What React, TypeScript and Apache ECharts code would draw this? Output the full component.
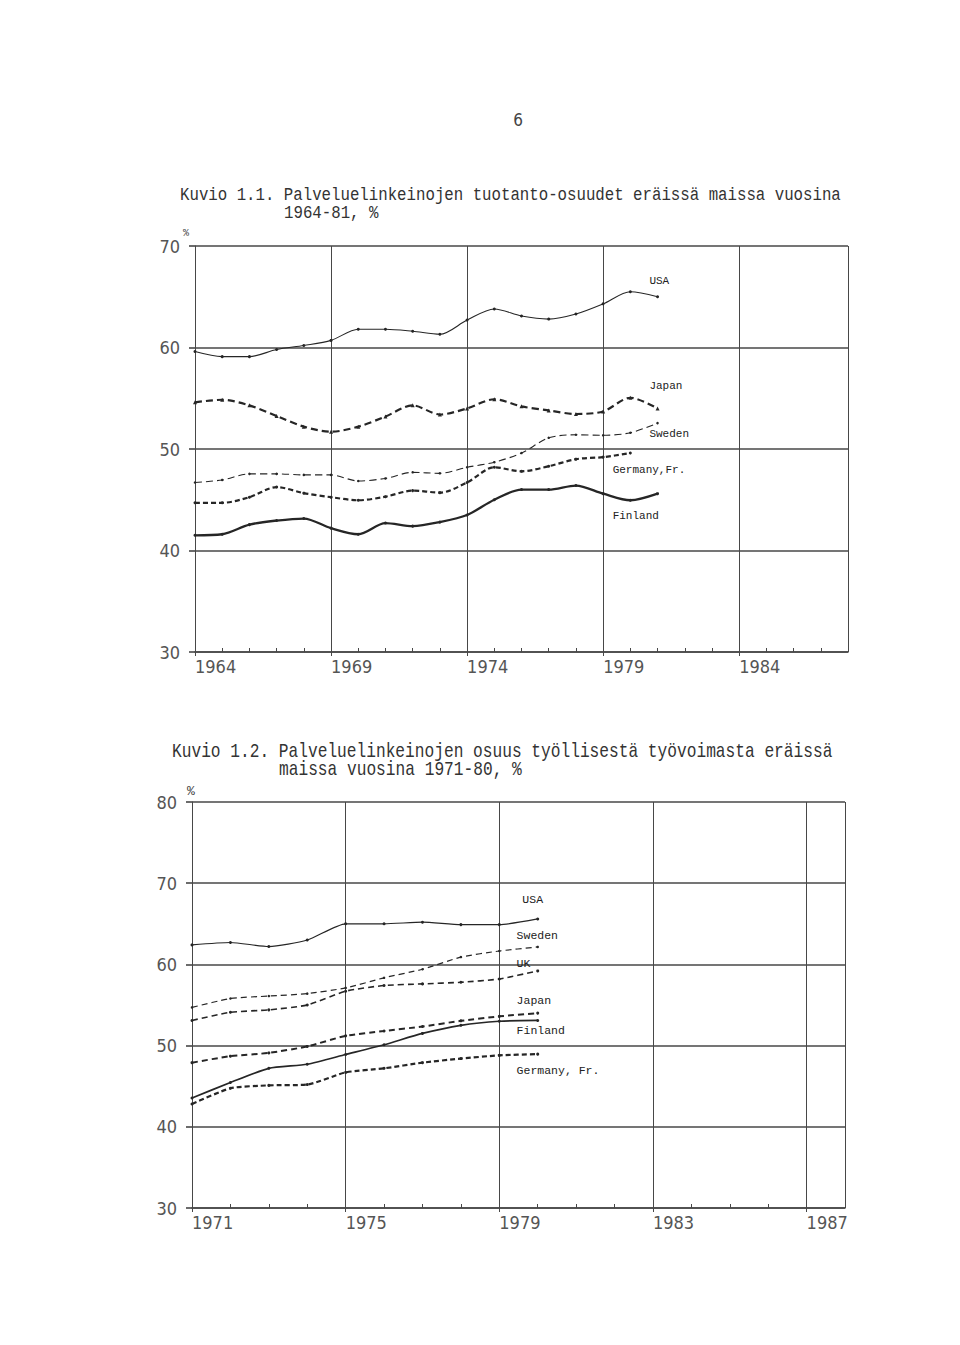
import React, { useEffect, useRef } from "react";
import * as echarts from "echarts";

// ---------- Chart 1.1 data (services share of output, %) ----------
const years1 = [1964, 1965, 1966, 1967, 1968, 1969, 1970, 1971, 1972, 1973, 1974, 1975, 1976, 1977, 1978, 1979, 1980, 1981];
const usa1 = [59.6, 59.1, 59.1, 59.8, 60.2, 60.7, 61.8, 61.8, 61.6, 61.3, 62.7, 63.8, 63.1, 62.8, 63.3, 64.3, 65.5, 65.0];
const japan1 = [54.6, 54.85, 54.3, 53.25, 52.2, 51.7, 52.2, 53.2, 54.3, 53.4, 54.0, 54.9, 54.2, 53.8, 53.45, 53.7, 55.05, 54.0];
const sweden1 = [46.7, 46.95, 47.55, 47.55, 47.45, 47.45, 46.85, 47.1, 47.7, 47.6, 48.2, 48.7, 49.6, 51.1, 51.4, 51.35, 51.6, 52.55];
const germany1 = [44.7, 44.7, 45.25, 46.25, 45.65, 45.25, 44.95, 45.3, 45.9, 45.7, 46.7, 48.2, 47.8, 48.3, 49.0, 49.2, 49.6];
const finland1 = [41.5, 41.6, 42.55, 42.95, 43.15, 42.2, 41.6, 42.7, 42.4, 42.8, 43.5, 45.0, 46.0, 46.0, 46.4, 45.6, 44.95, 45.6];
const xTicks1 = [1964, 1969, 1974, 1979, 1984];
const yTicks1 = [30, 40, 50, 60, 70];

// ---------- Chart 1.2 data (services share of employment, %) ----------
const years2 = [1971, 1972, 1973, 1974, 1975, 1976, 1977, 1978, 1979, 1980];
const usa2 = [62.4, 62.7, 62.2, 63.0, 65.0, 65.0, 65.2, 64.9, 64.9, 65.6];
const sweden2 = [54.7, 55.8, 56.1, 56.4, 57.1, 58.35, 59.4, 60.9, 61.65, 62.15];
const uk2 = [53.1, 54.1, 54.4, 55.0, 56.7, 57.4, 57.6, 57.8, 58.2, 59.2];
const japan2 = [47.9, 48.7, 49.1, 49.9, 51.2, 51.8, 52.35, 53.05, 53.6, 54.0];
const finland2 = [43.55, 45.45, 47.2, 47.7, 48.9, 50.1, 51.5, 52.5, 53.0, 53.1];
const germany2 = [42.8, 44.75, 45.1, 45.2, 46.7, 47.2, 47.9, 48.4, 48.8, 48.95];
const xTicks2 = [1971, 1975, 1979, 1983, 1987];
const yTicks2 = [30, 40, 50, 60, 70, 80];

const INK = "#262626";
const GRIDC = "#474747";
const MONO = '"Liberation Mono", "DejaVu Sans Mono", monospace';
const NUMF = '"DejaVu Sans Condensed", "Liberation Sans Narrow", "DejaVu Sans", sans-serif';

function mkSeries(
  name: string,
  axis: number,
  xs: number[],
  ys: number[],
  width: number,
  dash: number[] | "solid",
  symbol: string,
  symbolSize: number,
  smooth: number,
  label: { text: string; x: number; y: number; size: number }
) {
  return {
    type: "line",
    name,
    xAxisIndex: axis * 2,
    yAxisIndex: axis,
    data: xs.map((x, i) => [x, ys[i]]),
    smooth,
    symbol,
    symbolSize,
    showSymbol: true,
    itemStyle: { color: INK },
    lineStyle: { color: INK, width, type: dash },
    z: 5,
    markPoint: {
      silent: true,
      symbol: "circle",
      symbolSize: 0,
      itemStyle: { color: "rgba(0,0,0,0)" },
      label: {
        show: true,
        position: "right",
        distance: 0,
        formatter: label.text,
        fontFamily: MONO,
        fontSize: label.size,
        color: "#222",
      },
      data: [{ coord: [label.x, label.y] }],
    },
  };
}

function xAxisPair(grid: number, min: number, max: number, interval: number, ticks: number[]) {
  return [
    {
      type: "value",
      gridIndex: grid,
      min,
      max,
      interval,
      position: "bottom",
      axisLine: { show: true, lineStyle: { color: GRIDC, width: 1.6 } },
      axisTick: { show: true, length: 4, lineStyle: { color: GRIDC } },
      splitLine: { show: true, lineStyle: { color: GRIDC, width: 1 } },
      axisLabel: {
        show: true,
        showMaxLabel: false,
        align: "left",
        margin: 5,
        fontFamily: NUMF,
        fontSize: 18,
        color: "#555",
        formatter: (v: number) => (ticks.includes(v) ? String(v) : ""),
      },
    },
    {
      type: "value",
      gridIndex: grid,
      min,
      max,
      interval: 1,
      position: "bottom",
      axisLine: { show: false },
      axisTick: { show: true, inside: true, length: 4, lineStyle: { color: GRIDC } },
      splitLine: { show: false },
      axisLabel: { show: false },
    },
  ];
}

function yAxisOne(grid: number, min: number, max: number, ticks: number[]) {
  return {
    type: "value",
    gridIndex: grid,
    min,
    max,
    interval: 10,
    axisLine: { show: true, lineStyle: { color: GRIDC, width: 1 } },
    axisTick: { show: true, length: 6, lineStyle: { color: GRIDC, width: 1.6 } },
    splitLine: { show: true, lineStyle: { color: GRIDC, width: 1.6 } },
    axisLabel: {
      show: true,
      margin: 15,
      fontFamily: NUMF,
      fontSize: 18,
      color: "#555",
      formatter: (v: number) => (ticks.includes(v) ? String(v) : ""),
    },
  };
}

export default function App() {
  const ref = useRef<HTMLDivElement>(null);

  useEffect(() => {
    if (!ref.current) return;
    const chart = echarts.init(ref.current, undefined, { renderer: "svg" });

    const option: any = {
      animation: false,
      backgroundColor: "#ffffff",
      grid: [
        { left: 195, right: 112, top: 246, height: 406 },
        { left: 192, right: 115, top: 802, height: 406 },
      ],
      xAxis: [
        ...xAxisPair(0, 1964, 1988, 5, xTicks1),
        ...xAxisPair(1, 1971, 1988, 4, xTicks2),
      ],
      yAxis: [yAxisOne(0, 30, 70, yTicks1), yAxisOne(1, 30, 80, yTicks2)],
      series: [
        mkSeries("USA", 0, years1, usa1, 1.1, "solid", "circle", 3, 0.3, { text: "USA", x: 1980.7, y: 66.6, size: 11 }),
        mkSeries("Japan", 0, years1, japan1, 2.2, [7, 4], "triangle", 4, 0.3, { text: "Japan", x: 1980.7, y: 56.2, size: 11 }),
        mkSeries("Sweden", 0, years1, sweden1, 1.1, [7, 4], "circle", 2.5, 0.3, { text: "Sweden", x: 1980.7, y: 51.45, size: 11 }),
        mkSeries("Germany, Fr.", 0, years1, germany1, 2.2, [5, 3], "circle", 3, 0.3, { text: "Germany,Fr.", x: 1979.35, y: 47.95, size: 11 }),
        mkSeries("Finland", 0, years1, finland1, 2.3, "solid", "circle", 3, 0.3, { text: "Finland", x: 1979.35, y: 43.4, size: 11 }),

        mkSeries("USA ", 1, years2, usa2, 1.2, "solid", "circle", 3, 0.2, { text: "USA", x: 1979.6, y: 68.0, size: 11.5 }),
        mkSeries("Sweden ", 1, years2, sweden2, 1.2, [6, 4], "circle", 2.5, 0.2, { text: "Sweden", x: 1979.45, y: 63.6, size: 11.5 }),
        mkSeries("UK", 1, years2, uk2, 1.6, [6, 4], "circle", 3, 0.2, { text: "UK", x: 1979.45, y: 60.05, size: 11.5 }),
        mkSeries("Japan ", 1, years2, japan2, 2, [6, 4], "circle", 3, 0.2, { text: "Japan", x: 1979.45, y: 55.5, size: 11.5 }),
        mkSeries("Finland ", 1, years2, finland2, 1.7, "solid", "circle", 3, 0.2, { text: "Finland", x: 1979.45, y: 51.9, size: 11.5 }),
        mkSeries("Germany, Fr. ", 1, years2, germany2, 2.2, [5, 3], "circle", 3, 0.2, { text: "Germany, Fr.", x: 1979.45, y: 46.9, size: 11.5 }),
      ],
      graphic: [
        { type: "text", x: 518, y: 120, style: { text: "6", fontFamily: NUMF, fontSize: 17, fill: "#444", align: "center", verticalAlign: "middle" } },
        { type: "text", x: 180, y: 195, scaleY: 1.2, style: { text: "Kuvio 1.1. Palveluelinkeinojen tuotanto-osuudet eräissä maissa vuosina", fontFamily: MONO, fontSize: 15.75, fill: "#333", align: "left", verticalAlign: "middle" } },
        { type: "text", x: 284, y: 213, scaleY: 1.2, style: { text: "1964-81, %", fontFamily: MONO, fontSize: 15.75, fill: "#333", align: "left", verticalAlign: "middle" } },
        { type: "text", x: 186, y: 233, style: { text: "%", fontFamily: MONO, fontSize: 10, fill: "#444", align: "center", verticalAlign: "middle" } },
        { type: "text", x: 172, y: 752, scaleY: 1.2, style: { text: "Kuvio 1.2. Palveluelinkeinojen osuus työllisestä työvoimasta eräissä", fontFamily: MONO, fontSize: 16.2, fill: "#333", align: "left", verticalAlign: "middle" } },
        { type: "text", x: 279, y: 770, scaleY: 1.2, style: { text: "maissa vuosina 1971-80, %", fontFamily: MONO, fontSize: 16.2, fill: "#333", align: "left", verticalAlign: "middle" } },
        { type: "text", x: 191, y: 791, style: { text: "%", fontFamily: MONO, fontSize: 13, fill: "#444", align: "center", verticalAlign: "middle" } },
      ],
    };

    chart.setOption(option);
    return () => chart.dispose();
  }, []);

  return (
    <div
      ref={ref}
      style={{ position: "fixed", left: 0, top: 0, width: 960, height: 1345, background: "#fff" }}
    />
  );
}
